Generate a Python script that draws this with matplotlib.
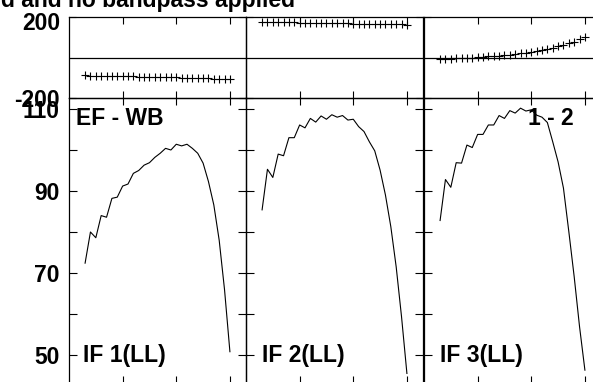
import matplotlib
matplotlib.use('Agg')
import matplotlib.pyplot as plt
import matplotlib.transforms as mtransforms

W, H, DPI = 593, 382, 100
plt.rcParams['font.family'] = ['Liberation Sans', 'DejaVu Sans']
FS = 16.5

# ---------------- data ----------------
channels = list(range(1, 29))

phase_if1 = [-88, -89, -89, -90, -90, -91, -91, -92, -92, -93, -94, -94, -95, -95,
             -96, -97, -97, -98, -99, -99, -100, -101, -102, -103, -104, -105, -106, -108]
phase_if2 = [176, 175, 175, 174, 174, 173, 173, 172, 172, 171, 171, 170, 170, 169,
             169, 168, 168, 167, 167, 166, 166, 165, 165, 164, 164, 163, 163, 162]
phase_if3 = [-7, -6, -5, -4, -3, -2, -1, 1, 3, 5, 7, 9, 12, 14,
             17, 20, 24, 28, 32, 37, 42, 48, 55, 62, 70, 79, 89, 100]

amp_if1 = [72.4, 80.0, 78.6, 84.0, 83.6, 88.2, 88.5, 91.2, 91.7, 94.3, 95.0, 96.3, 96.9, 98.2,
           99.2, 100.4, 100.0, 101.4, 101.0, 101.4, 100.4, 99.2, 96.8, 92.3, 86.6, 78.0, 65.9, 50.8]
amp_if2 = [85.4, 95.3, 93.3, 99.0, 98.6, 103.0, 103.0, 106.1, 105.4, 107.7, 106.8, 108.3, 107.5, 108.6,
           108.0, 108.4, 107.3, 107.5, 105.7, 104.5, 102.0, 99.8, 95.1, 89.0, 81.3, 71.5, 59.3, 45.5]
amp_if3 = [82.8, 92.8, 90.9, 96.9, 96.8, 101.2, 100.6, 103.8, 103.8, 106.1, 106.1, 108.4, 107.7, 109.6,
           109.0, 110.2, 109.5, 109.8, 108.5, 108.0, 106.7, 102.0, 97.1, 90.7, 80.1, 69.1, 56.9, 46.3]

phases = [phase_if1, phase_if2, phase_if3]
amps = [amp_if1, amp_if2, amp_if3]
if_labels = ['IF 1(LL)', 'IF 2(LL)', 'IF 3(LL)']
title_text = 'd and no bandpass applied'
source_label = 'EF - WB'
baseline_label = '1 - 2'

phase_ticks = [-200, 200]
phase_ticklabels = ['-200', '200']
amp_ticks = [50, 60, 70, 80, 90, 100, 110]
amp_ticklabels = ['50', '', '70', '', '90', '', '110']
x_ticks = [8, 18, 28]

# ---------------- layout ----------------
fig = plt.figure(figsize=(W / DPI, H / DPI), dpi=DPI)


def px_axes(left, top, width, height):
    return fig.add_axes([left / W, 1 - (top + height) / H, width / W, height / H])


lefts = [69, 246, 424]
PW = 177
for i in range(3):
    axp = px_axes(lefts[i], 17, PW, 81)
    axa = px_axes(lefts[i], 98, PW, 285)
    for ax in (axp, axa):
        ax.set_xlim(-2, 31)
        ax.set_xticks(x_ticks)
        ax.tick_params(axis='both', which='both', direction='in', length=5, width=0.8,
                       top=True, bottom=True, left=True, right=True,
                       labelbottom=False, labeltop=False, labelright=False,
                       labelsize=FS, pad=6.5, colors='black')
        for s in ax.spines.values():
            s.set_linewidth(0.9)
            s.set_color('black')
        ax.patch.set_alpha(0)

    axp.plot(channels, phases[i], linestyle='none', marker='+', markersize=5.5,
             markeredgewidth=0.8, color='black')
    axp.axhline(0, color='black', linewidth=0.9)
    axp.set_ylim(-200, 200)
    axp.set_yticks(phase_ticks)

    axa.plot(channels, amps[i], color='black', linewidth=0.8)
    axa.set_ylim(43.17, 112.68)
    axa.set_yticks(amp_ticks)
    axa.tick_params(axis='y', length=6)

    if i == 0:
        axp.set_yticklabels(phase_ticklabels, fontweight='bold')
        axa.set_yticklabels(amp_ticklabels, fontweight='bold')
        lbl = axp.get_yticklabels()[1]
        lbl.set_transform(lbl.get_transform() +
                          mtransforms.ScaledTranslation(0, -4 / DPI, fig.dpi_scale_trans))
    else:
        axp.tick_params(labelleft=False)
        axa.tick_params(labelleft=False)

# texts
def ftext(x, y, s, **kw):
    fig.text(x / W, 1 - y / H, s, fontsize=FS, fontweight='bold', color='black', **kw)

ftext(295, 6.5, title_text, ha='right', va='baseline')
ftext(76, 125, source_label, ha='left', va='baseline')
ftext(528, 125, baseline_label, ha='left', va='baseline')
ftext(83, 362, if_labels[0], ha='left', va='baseline')
ftext(261.5, 362, if_labels[1], ha='left', va='baseline')
ftext(439.5, 362, if_labels[2], ha='left', va='baseline')

fig.savefig('out.png', dpi=DPI)
